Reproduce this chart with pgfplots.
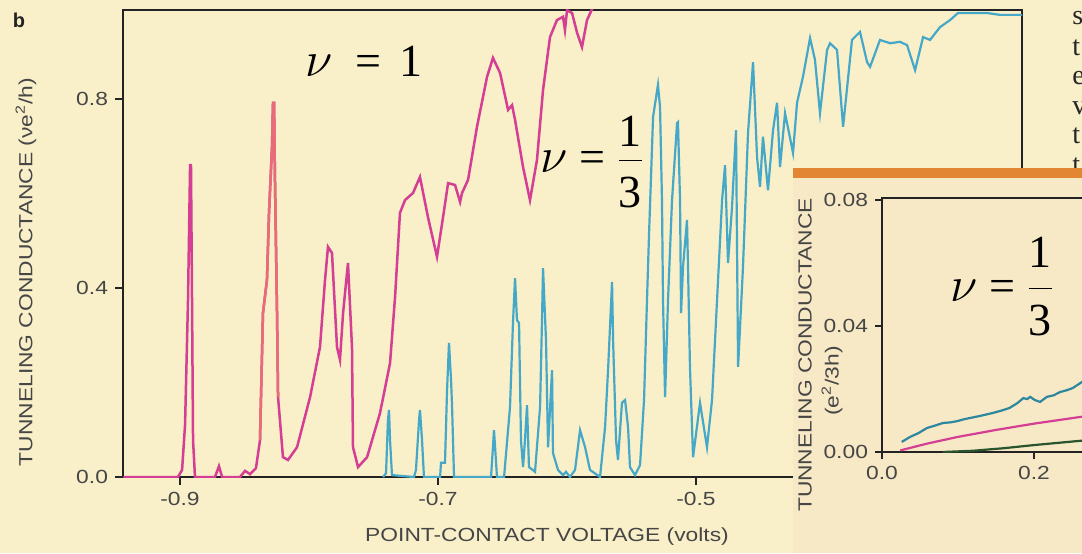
\documentclass[border=0pt]{standalone}
\usepackage{fontspec}
\setmainfont{Liberation Sans}
\newfontfamily\lsans[FakeStretch=1.2]{Liberation Sans}
\newfontfamily\tnr{Liberation Serif}
\usepackage{pgfplots}
\pgfplotsset{compat=1.18}
\definecolor{paper}{RGB}{249,239,201}
\definecolor{paperin}{RGB}{247,233,197}
\definecolor{barc}{RGB}{226,134,52}
\definecolor{mag}{RGB}{212,62,148}
\definecolor{salm}{RGB}{232,108,118}
\definecolor{cyn}{RGB}{70,168,200}
\definecolor{teal2}{RGB}{45,135,158}
\definecolor{grn}{RGB}{40,85,45}
\definecolor{axc}{RGB}{35,35,35}
\definecolor{labc}{RGB}{70,70,70}
\newcommand\labfont{\lsans\fontsize{9.5}{11}\selectfont}
\newcommand\anfont{\tnr\fontsize{23}{26}\selectfont}
\begin{document}
\begin{tikzpicture}
\useasboundingbox (0,0) rectangle (541pt,276.5pt);
\fill[paper] (0,0) rectangle (541pt,276.5pt);
\clip (0,0) rectangle (541pt,276.5pt);

% page text at right edge
\foreach \yy/\ch in {264/s,248.75/t,234/e,219.25/v,204.5/t,189.75/t}
  \node[anchor=base west, inner sep=0pt, font=\tnr\fontsize{14}{16}\selectfont, text=black!85] at (536pt,\yy pt) {\ch};

\begin{axis}[
  scale only axis, width=449.5pt, height=233.5pt,
  at={(61.5pt,38pt)}, anchor=south west,
  xmin=-0.9442, xmax=-0.2473, ymin=0, ymax=0.9884,
  axis line style={axc, line width=1pt},
  xtick={-0.9,-0.7,-0.5}, xticklabels={-0.9,-0.7,-0.5},
  ytick={0,0.4,0.8}, yticklabels={0.0,0.4,0.8},
  tick align=outside, tick pos=left, major tick length=4pt,
  tick style={axc, line width=0.9pt},
  ticklabel style={font=\labfont, text=labc},
]
\addplot[mag, line width=1.25pt] coordinates {
(-0.944,0) (-0.9078,0) (-0.9016,0) (-0.8984,0.015) (-0.8961,0.110) (-0.8938,0.375)
(-0.8922,0.660) (-0.8915,0.660) (-0.8907,0.375) (-0.8899,0.078) (-0.8884,0)
(-0.8729,0) (-0.8698,0.023) (-0.8674,0) (-0.8535,0) (-0.8496,0.013) (-0.8457,0.006)
(-0.8411,0.019) (-0.8380,0.078) (-0.8357,0.347) (-0.8326,0.417) (-0.8310,0.559)
(-0.8287,0.698) (-0.8279,0.792) (-0.8271,0.792) (-0.8264,0.629) (-0.8248,0.347)
(-0.8240,0.169) (-0.8202,0.042) (-0.8163,0.036) (-0.8093,0.063) (-0.7992,0.169)
(-0.7915,0.275) (-0.7876,0.417) (-0.7853,0.487) (-0.7822,0.474) (-0.7783,0.275)
(-0.7760,0.248) (-0.7736,0.347) (-0.7698,0.453) (-0.7667,0.275) (-0.7659,0.063)
(-0.7620,0.021) (-0.7550,0.042) (-0.7450,0.135) (-0.7372,0.241) (-0.7333,0.381)
(-0.7295,0.559) (-0.7256,0.586) (-0.7194,0.601) (-0.7140,0.635) (-0.7078,0.550)
(-0.7008,0.466) (-0.6961,0.550) (-0.6922,0.622) (-0.6868,0.618) (-0.6829,0.582)
(-0.6814,0.601) (-0.6767,0.629) (-0.6698,0.741) (-0.6620,0.847) (-0.6574,0.887)
(-0.6519,0.855) (-0.6457,0.777) (-0.6426,0.787) (-0.6403,0.756) (-0.6341,0.656)
(-0.6287,0.586) (-0.6233,0.671) (-0.6186,0.819) (-0.6132,0.931) (-0.6078,0.967)
(-0.6031,0.974) (-0.6016,0.946) (-0.6000,0.988) (-0.5961,0.982) (-0.5922,0.940)
(-0.5884,0.910) (-0.5845,0.967) (-0.5798,0.995)
};
\addplot[salm, line width=1.25pt] coordinates {
(-0.8380,0.078) (-0.8357,0.347) (-0.8326,0.417) (-0.8310,0.559)
(-0.8287,0.698) (-0.8279,0.792) (-0.8271,0.792) (-0.8264,0.629) (-0.8248,0.347)
(-0.8240,0.169)
};
\addplot[cyn, line width=1.1pt] coordinates {
(-0.7426,0) (-0.7403,0.008) (-0.7388,0.121) (-0.7380,0.142) (-0.7372,0.078) (-0.7357,0.004)
(-0.7186,0) (-0.7171,0.015) (-0.7147,0.121) (-0.7140,0.142) (-0.7124,0.078) (-0.7109,0)
(-0.6984,0) (-0.6977,0.030) (-0.6946,0.030) (-0.6930,0.184) (-0.6915,0.284) (-0.6899,0.205)
(-0.6891,0.148) (-0.6876,0) (-0.6589,0) (-0.6566,0.099) (-0.6543,0) (-0.6488,0)
(-0.6442,0.148) (-0.6419,0.326) (-0.6403,0.421) (-0.6388,0.332) (-0.6372,0.326)
(-0.6357,0.078) (-0.6341,0.021) (-0.6326,0.078) (-0.6310,0.152) (-0.6295,0.021)
(-0.6248,0.011) (-0.6209,0.148) (-0.6194,0.332) (-0.6186,0.442) (-0.6163,0.290)
(-0.6147,0.063) (-0.6116,0.226) (-0.6109,0.051) (-0.6070,0.015) (-0.6031,0.004)
(-0.6008,0.011) (-0.5977,0) (-0.5938,0.015) (-0.5899,0.099) (-0.5860,0.063)
(-0.5822,0.015) (-0.5744,0) (-0.5705,0.106) (-0.5682,0.226) (-0.5651,0.413)
(-0.5643,0.290) (-0.5620,0.078) (-0.5605,0.036) (-0.5574,0.157) (-0.5550,0.163)
(-0.5527,0.106) (-0.5512,0.021) (-0.5473,0.004) (-0.5434,0.025) (-0.5403,0.163)
(-0.5380,0.375) (-0.5364,0.516) (-0.5333,0.762) (-0.5295,0.830) (-0.5279,0.783)
(-0.5264,0.586) (-0.5256,0.375) (-0.5240,0.169) (-0.5217,0.375) (-0.5186,0.586)
(-0.5147,0.749) (-0.5140,0.751) (-0.5124,0.586) (-0.5116,0.347) (-0.5101,0.444)
(-0.5070,0.544) (-0.5062,0.444) (-0.5047,0.233) (-0.5023,0.042) (-0.4969,0.157)
(-0.4915,0.063) (-0.4876,0.163) (-0.4837,0.375) (-0.4798,0.586) (-0.4775,0.660)
(-0.4752,0.453) (-0.4721,0.571) (-0.4690,0.734) (-0.4674,0.233) (-0.4636,0.444)
(-0.4597,0.728) (-0.4558,0.878) (-0.4527,0.677) (-0.4504,0.614) (-0.4481,0.720)
(-0.4442,0.607) (-0.4403,0.734) (-0.4372,0.792) (-0.4349,0.656) (-0.4310,0.770)
(-0.4248,0.686) (-0.4217,0.792) (-0.4171,0.847) (-0.4116,0.929) (-0.4078,0.883)
(-0.4039,0.770) (-0.3984,0.904) (-0.3961,0.918) (-0.3907,0.904) (-0.3860,0.741)
(-0.3791,0.925) (-0.3729,0.942) (-0.3674,0.878) (-0.3651,0.868) (-0.3574,0.925)
(-0.3496,0.918) (-0.3419,0.921) (-0.3364,0.914) (-0.3302,0.861) (-0.3240,0.931)
(-0.3186,0.925) (-0.3109,0.952) (-0.3031,0.967) (-0.2969,0.982) (-0.2853,0.982)
(-0.2744,0.982) (-0.2643,0.978) (-0.2512,0.978) (-0.2473,0.978)
};
\end{axis}

% labels of main axis
\node[font=\labfont, text=labc] at (273.5pt,8pt) {POINT-CONTACT VOLTAGE (volts)};
\node[font=\labfont, text=labc, rotate=90] at (13pt,140.5pt) {TUNNELING CONDUCTANCE (νe\textsuperscript{2}/h)};
\node[font=\bfseries\fontsize{10}{12}\selectfont, text=axc] at (9.5pt,266.5pt) {b};

% annotations
\node[anchor=base west, inner sep=0pt, font=\anfont] at (152.5pt,238pt)
  {$\nu$\hspace{0.5em}=\hspace{0.4em}1};
\node[anchor=base west, inner sep=0pt, font=\anfont] at (270pt,190pt)
  {$\nu$\hspace{0.25em}=\hspace{0.25em}$\displaystyle\frac{\mbox{\raisebox{-3.5pt}[0.68em][0pt]{1}}}{\mbox{3}}$};

% inset panel
\fill[paperin] (396.5pt,0) rectangle (541pt,187.5pt);
\fill[barc] (396.5pt,187.5pt) rectangle (541pt,192.5pt);

\begin{axis}[
  scale only axis, width=114pt, height=127pt,
  at={(441pt,50.5pt)}, anchor=south west,
  xmin=0, xmax=0.3, ymin=0, ymax=0.0806,
  scaled x ticks=false, scaled y ticks=false,
  axis line style={axc, line width=1pt},
  xtick={0,0.2}, xticklabels={0.0,0.2},
  ytick={0,0.04,0.08}, yticklabels={0.00,0.04,0.08},
  tick align=outside, tick pos=left, major tick length=3.5pt,
  tick style={axc, line width=0.9pt},
  ticklabel style={font=\labfont, text=labc},
]
\addplot[grn, line width=1.1pt] coordinates {
(0.08,0.0) (0.12,0.0004) (0.16,0.0012) (0.20,0.0022) (0.263,0.0036) (0.30,0.0044)
};
\addplot[mag, line width=1.1pt] coordinates {
(0.024,0.0005) (0.06,0.0027) (0.10,0.0048) (0.15,0.0070) (0.20,0.0090) (0.263,0.0112) (0.30,0.0124)
};
\addplot[teal2, line width=1.1pt] coordinates {
(0.026,0.0032) (0.037,0.0048) (0.048,0.0060) (0.059,0.0076) (0.070,0.0084) (0.080,0.0092)
(0.090,0.0094) (0.099,0.0098) (0.108,0.0104) (0.116,0.0108) (0.130,0.0115) (0.146,0.0124)
(0.158,0.0132) (0.168,0.0140) (0.178,0.0155) (0.186,0.0171) (0.191,0.0168) (0.195,0.0175)
(0.201,0.0165) (0.208,0.0159) (0.217,0.0175) (0.226,0.0180) (0.234,0.0190) (0.243,0.0196)
(0.251,0.0203) (0.263,0.0222) (0.28,0.0240)
};
\end{axis}

\node[font=\labfont, text=labc, rotate=90] at (402.5pt,99pt) {TUNNELING CONDUCTANCE};
\node[font=\labfont, text=labc, rotate=90] at (416pt,86pt) {(e\textsuperscript{2}/3h)};
\node[anchor=base west, inner sep=0pt, font=\anfont] at (475pt,126pt)
  {$\nu$\hspace{0.25em}=\hspace{0.25em}$\displaystyle\frac{\mbox{1}}{\mbox{3}}$};
\end{tikzpicture}
\end{document}
